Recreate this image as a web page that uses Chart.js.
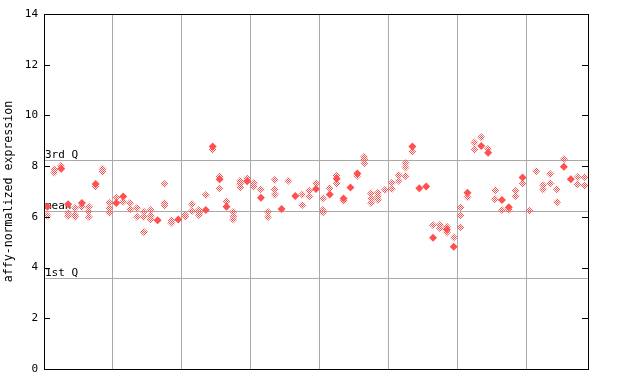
<!DOCTYPE html>
<html>
<head>
<meta charset="utf-8">
<script src="https://cdn.jsdelivr.net/npm/chart.js@4"></script>
<style>
  html, body { margin: 0; padding: 0; background: #fff; }
  #wrap { width: 640px; height: 384px; }
</style>
</head>
<body>
<div id="wrap"><canvas id="chart" width="640" height="384"></canvas></div>
<script>
// one entry per sample, left to right
const openVals = [
  [6.05], [7.75, 7.88], [8.02], [6.15, 6.03], [6.35, 6.07, 6.0],
  [6.4], [6.4, 6.2, 6.0], [7.2], [7.9, 7.78], [6.55, 6.35, 6.15],
  [6.75], [6.6], [6.55, 6.3], [6.35, 6.0], [6.2, 6.0, 5.4],
  [6.27, 6.03, 5.9], [], [7.3, 6.55, 6.45], [5.87, 5.75], [],
  [6.07, 6.0], [6.5, 6.23], [6.27, 6.17, 6.07], [6.86], [8.66],
  [7.58, 7.13], [6.62], [6.2, 6.03, 5.9], [7.42, 7.3, 7.16], [7.52],
  [7.34, 7.2], [7.08], [6.2, 5.98], [7.45, 7.08, 6.88], [],
  [7.42], [], [6.88, 6.47], [7.03, 6.8], [7.32],
  [6.72, 6.27, 6.17], [7.13], [7.62, 7.32], [6.63], [],
  [7.62], [8.37, 8.25, 8.11], [6.92, 6.72, 6.55], [6.95, 6.8, 6.66], [7.06],
  [7.34, 7.1], [7.65, 7.42], [8.11, 7.95, 7.61], [8.57], [],
  [], [5.68], [5.68, 5.55], [5.61, 5.38], [5.19],
  [6.38, 6.06, 5.59], [6.77], [8.93, 8.66], [9.14], [8.69],
  [7.04, 6.69], [6.27], [6.27], [7.03, 6.82], [7.32],
  [6.24], [7.81], [7.25, 7.08], [7.69, 7.32], [7.08, 6.58],
  [8.27], [], [7.56, 7.28], [7.56, 7.24]
];
const solidVals = [
  6.4, null, 7.9, 6.5, null, 6.55, null, 7.3, null, null,
  6.55, 6.8, null, null, null, null, 5.87, null, null, 5.9,
  null, null, null, 6.27, 8.77, 7.48, 6.4, null, null, 7.4,
  null, 6.75, null, null, 6.31, null, 6.82, null, null, 7.1,
  null, 6.88, 7.5, 6.72, 7.16, 7.71, null, null, null, null,
  null, null, null, 8.77, 7.13, 7.2, 5.18, null, 5.5, 4.82,
  null, 6.95, null, 8.79, 8.53, null, 6.66, 6.38, null, 7.55,
  null, null, null, null, null, 7.98, 7.48, null, null
];
const qValues = [8.24, 6.23, 3.59];
const qLabels = ["3rd Q", "mean", "1st Q"];
const yTicks = [0, 2, 4, 6, 8, 10, 12, 14];
const nSamples = openVals.length;

const red = "#ff5050";
const font = "'DejaVu Sans Mono', monospace";

// checkered fill for the open diamonds
const pc = document.createElement("canvas");
pc.width = 2; pc.height = 2;
const pctx = pc.getContext("2d");
pctx.fillStyle = red;
pctx.fillRect(0, 0, 1, 1);
pctx.fillRect(1, 1, 1, 1);
const checker = document.getElementById("chart").getContext("2d").createPattern(pc, "repeat");

const openPts = [];
openVals.forEach((vals, i) => vals.forEach(v => openPts.push({ x: i + 0.5, y: v })));
const solidPts = [];
solidVals.forEach((v, i) => { if (v !== null) solidPts.push({ x: i + 0.5, y: v }); });

const frame = {
  id: "frame",
  beforeDatasetsDraw(chart) {
    const { ctx, chartArea: a, scales: { y } } = chart;
    ctx.save();
    ctx.strokeStyle = "#aaaaaa";
    ctx.lineWidth = 1;
    qValues.forEach((q, i) => {
      const py = Math.round(y.getPixelForValue(q)) + 0.5;
      ctx.beginPath();
      ctx.moveTo(a.left, py);
      ctx.lineTo(a.right, py);
      ctx.stroke();
      ctx.fillStyle = "#000";
      ctx.font = "11px " + font;
      ctx.textBaseline = "bottom";
      ctx.fillText(qLabels[i], a.left + 1, py);
    });
    ctx.restore();
  },
  afterDraw(chart) {
    const { ctx, chartArea: a, scales: { y } } = chart;
    ctx.save();
    ctx.strokeStyle = "#000";
    ctx.lineWidth = 1;
    ctx.strokeRect(a.left + 0.5, a.top + 0.5, a.right - a.left, a.bottom - a.top);
    yTicks.forEach(t => {
      const py = Math.round(y.getPixelForValue(t)) + 0.5;
      ctx.beginPath();
      ctx.moveTo(a.left, py); ctx.lineTo(a.left + 6, py);
      ctx.moveTo(a.right, py); ctx.lineTo(a.right - 6, py);
      ctx.stroke();
    });
    ctx.restore();
  }
};

new Chart(document.getElementById("chart"), {
  type: "scatter",
  data: {
    datasets: [
      {
        data: openPts,
        pointStyle: "rectRot",
        pointRadius: 4,
        pointBackgroundColor: checker,
        pointBorderWidth: 0,
        pointBorderColor: "rgba(0,0,0,0)"
      },
      {
        data: solidPts,
        pointStyle: "rectRot",
        pointRadius: 4,
        pointBackgroundColor: red,
        pointBorderWidth: 0,
        pointBorderColor: "rgba(0,0,0,0)"
      }
    ]
  },
  options: {
    responsive: false,
    animation: false,
    events: [],
    layout: { padding: { left: 0, right: 52, top: 14, bottom: 15 } },
    plugins: { legend: { display: false }, tooltip: { enabled: false } },
    scales: {
      x: {
        type: "linear",
        min: 0,
        max: nSamples,
        ticks: { display: false, stepSize: 10 },
        grid: { color: "#aaaaaa", drawTicks: false },
        border: { display: false },
        afterFit(scale) { scale.height = 0; }
      },
      y: {
        min: 0,
        max: 14,
        afterBuildTicks(scale) { scale.ticks = yTicks.map(v => ({ value: v })); },
        ticks: { color: "#000", font: { family: font, size: 11 }, padding: 6 },
        grid: { display: false, drawTicks: false },
        border: { display: false },
        title: {
          display: true,
          text: "affy-normalized expression",
          color: "#000",
          font: { family: font, size: 11.6 },
          padding: { top: 2, bottom: 0 }
        },
        afterFit(scale) { scale.width = 44; }
      }
    }
  },
  plugins: [frame]
});
</script>
</body>
</html>
